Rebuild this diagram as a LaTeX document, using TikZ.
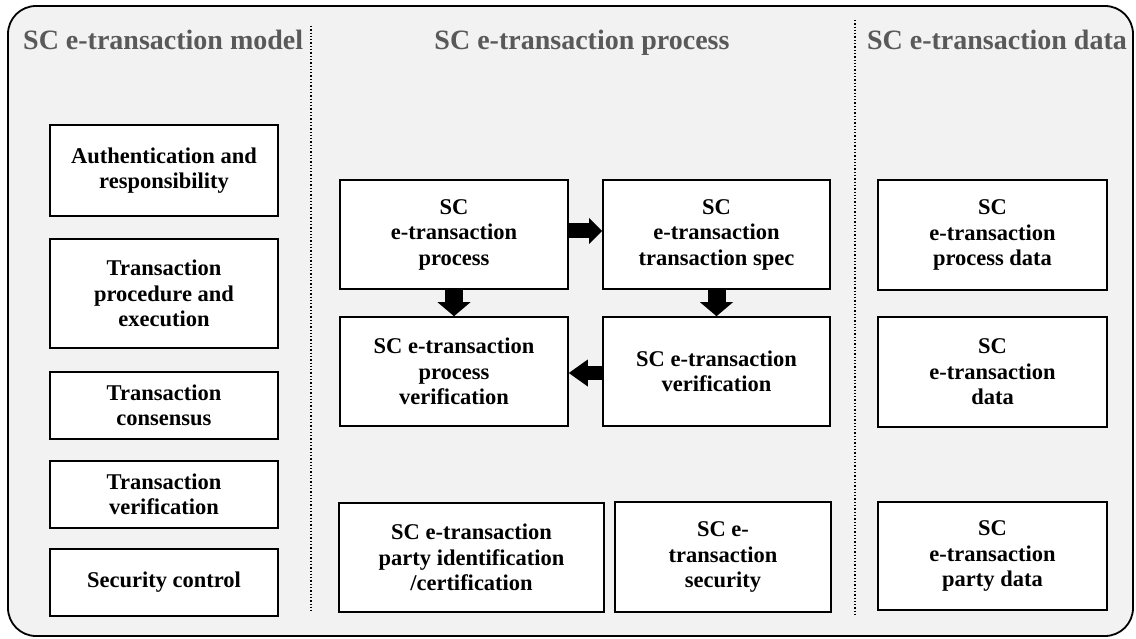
\documentclass[tikz,border=0pt]{standalone}
\usepackage{fontspec}
\setmainfont{Liberation Serif}
\usetikzlibrary{arrows.meta}
\definecolor{panelgray}{HTML}{F2F2F2}
\definecolor{headgray}{HTML}{595959}
\begin{document}
\begin{tikzpicture}[x=1pt, y=-1pt,
    box/.style={draw, line width=1.6pt, fill=white, align=center, inner sep=0pt,
      font=\fontsize{22.5}{25.5}\selectfont\bfseries},
    head/.style={text=headgray, inner sep=0pt, font=\fontsize{28}{32}\selectfont\bfseries},
    flowarrow/.style n args={3}{line width=#1pt, -{Triangle[width=#2pt, length=#3pt, line width=0pt]}}]
      \useasboundingbox (0,0) rectangle (1136,639);
      \draw[line width=1.8pt, fill=panelgray, rounded corners=28pt] (8,6) rectangle (1133,636);
      \draw[dotted, line width=1.3pt] (311,26) -- (311,613);
      \draw[dotted, line width=1.3pt] (855,20) -- (855,615);
      \node[head, anchor=base west] (hmodel) at (23,50) {SC e-transaction model};
      \node[head, anchor=base] (hprocess) at (582,50) {SC e-transaction process};
      \node[head, anchor=base] (hdata) at (997,50) {SC e-transaction data};
      \node[box, minimum width=228pt, minimum height=91pt] (auth) at (164,170.5) {Authentication and\\responsibility};
      \node[box, minimum width=228pt, minimum height=109pt] (procexec) at (164,293.5) {Transaction\\procedure and\\execution};
      \node[box, minimum width=228pt, minimum height=67pt] (consensus) at (164,405.5) {Transaction\\consensus};
      \node[box, minimum width=228pt, minimum height=67pt] (tverif) at (164,494.5) {Transaction\\verification};
      \node[box, minimum width=228pt, minimum height=67pt] (secctrl) at (164,582.5) {Security control};
      \node[box, minimum width=228pt, minimum height=109pt] (eproc) at (454,234.5) {SC\\e-transaction\\process};
      \node[box, minimum width=227pt, minimum height=109pt] (espec) at (716.5,234.5) {SC\\e-transaction\\transaction spec};
      \node[box, minimum width=228pt, minimum height=109pt] (epverif) at (454,371.5) {SC e-transaction\\process\\verification};
      \node[box, minimum width=227pt, minimum height=109pt] (everif) at (716.5,371.5) {SC e-transaction\\verification};
      \node[box, minimum width=265pt, minimum height=109pt] (eparty) at (471.5,557.5) {SC e-transaction\\party identification\\/certification};
      \node[box, minimum width=216pt, minimum height=110pt] (esec) at (723,557) {SC e-\\transaction\\security};
      \node[box, minimum width=229pt, minimum height=110pt] (pdata) at (992.5,235) {SC\\e-transaction\\process data};
      \node[box, minimum width=229pt, minimum height=110pt] (tdata) at (992.5,372) {SC\\e-transaction\\data};
      \node[box, minimum width=229pt, minimum height=108pt] (partydata) at (992.5,556) {SC\\e-transaction\\party data};
      \draw[flowarrow={15}{26}{13}] ([yshift=3.5pt]eproc.east) -- ([yshift=3.5pt]espec.west);
      \draw[flowarrow={18}{33}{14}] (eproc) -- (epverif);
      \draw[flowarrow={18}{33}{14}] (espec) -- (everif);
      \draw[flowarrow={14}{27}{19}] ([yshift=-1.5pt]everif.west) -- ([yshift=-1.5pt]epverif.east);
    \end{tikzpicture}
\end{document}
